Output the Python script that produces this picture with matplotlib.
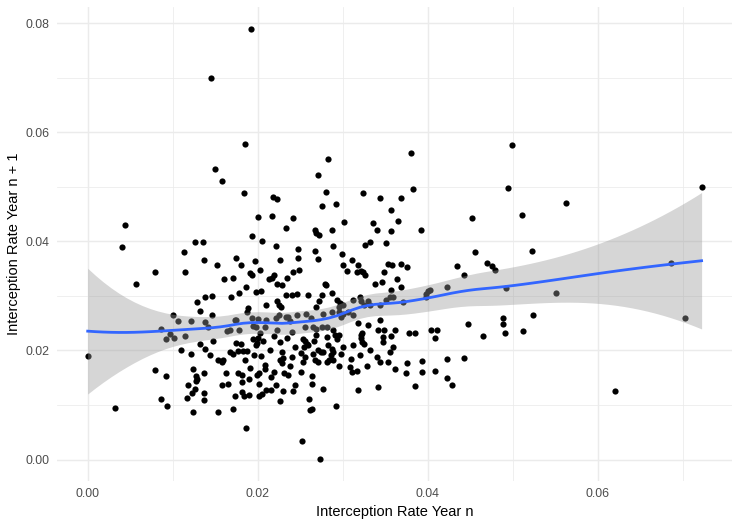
import numpy as np
import matplotlib
matplotlib.use("Agg")
import matplotlib.pyplot as plt

plt.rcParams['font.family'] = ['Liberation Sans', 'DejaVu Sans']

# Interception rate in year n (x) and year n + 1 (y)
rate_year_n = [
    0.0044, 0.0040, 0.0126, 0.0113, 0.0114, 0.0079, 0.0057, 0.0129, 0.0100, 0.0132,
    0.0086, 0.0106, 0.0122, 0.0097, 0.0092, 0.0102, 0.0114, 0.0000, 0.0110, 0.0122,
    0.0079, 0.0092, 0.0124, 0.0127, 0.0129, 0.0127, 0.0118, 0.0126, 0.0123, 0.0117,
    0.0086, 0.0093, 0.0032, 0.0124, 0.0132,
    0.0158, 0.0184, 0.0218, 0.0223, 0.0200, 0.0217, 0.0242, 0.0233, 0.0193, 0.0136,
    0.0205, 0.0222, 0.0247, 0.0247, 0.0137, 0.0152, 0.0174, 0.0180, 0.0197, 0.0226,
    0.0203, 0.0191, 0.0193, 0.0241, 0.0249, 0.0160, 0.0171, 0.0213, 0.0219, 0.0217,
    0.0234,
    0.0186, 0.0223, 0.0229, 0.0204, 0.0198, 0.0138, 0.0146, 0.0168, 0.0178, 0.0233,
    0.0240, 0.0246, 0.0223, 0.0225, 0.0227, 0.0210, 0.0189, 0.0187, 0.0146, 0.0138,
    0.0142, 0.0173, 0.0175, 0.0167, 0.0164, 0.0178, 0.0193, 0.0200, 0.0194, 0.0198,
    0.0208, 0.0210, 0.0222, 0.0225, 0.0233, 0.0236, 0.0238, 0.0246, 0.0223, 0.0240,
    0.0147, 0.0138, 0.0144, 0.0153, 0.0158, 0.0159, 0.0167, 0.0171, 0.0177, 0.0183,
    0.0187, 0.0185, 0.0174, 0.0180, 0.0194, 0.0200, 0.0203, 0.0206, 0.0198, 0.0199,
    0.0214, 0.0219, 0.0226, 0.0228, 0.0230, 0.0226, 0.0234, 0.0244, 0.0240, 0.0238,
    0.0229, 0.0209, 0.0208, 0.0191, 0.0196, 0.0204,
    0.0137, 0.0163, 0.0177, 0.0181, 0.0190, 0.0182, 0.0199, 0.0202, 0.0215, 0.0219,
    0.0231, 0.0236, 0.0244, 0.0158, 0.0165, 0.0202, 0.0222, 0.0137, 0.0137, 0.0173,
    0.0181, 0.0184, 0.0190, 0.0202, 0.0205, 0.0210, 0.0215, 0.0230, 0.0242, 0.0226,
    0.0153, 0.0171, 0.0186,
    0.0280, 0.0324, 0.0344, 0.0368, 0.0276, 0.0292, 0.0357, 0.0302, 0.0336, 0.0365,
    0.0267, 0.0269, 0.0272, 0.0287, 0.0340, 0.0357, 0.0326, 0.0332, 0.0351, 0.0289,
    0.0267, 0.0271, 0.0299, 0.0311, 0.0300, 0.0318, 0.0353, 0.0358, 0.0305, 0.0317,
    0.0321, 0.0324, 0.0326, 0.0349, 0.0364,
    0.0279, 0.0280, 0.0338, 0.0346, 0.0357, 0.0259, 0.0275, 0.0287, 0.0272, 0.0268,
    0.0293, 0.0297, 0.0300, 0.0296, 0.0312, 0.0320, 0.0322, 0.0325, 0.0330, 0.0332,
    0.0344, 0.0351, 0.0355, 0.0359, 0.0257, 0.0263, 0.0277, 0.0287, 0.0296, 0.0300,
    0.0298, 0.0306, 0.0312, 0.0344, 0.0255, 0.0265, 0.0269, 0.0275, 0.0281, 0.0289,
    0.0318, 0.0330, 0.0342, 0.0349, 0.0361, 0.0253, 0.0256, 0.0258, 0.0254, 0.0259,
    0.0266, 0.0268, 0.0281, 0.0291, 0.0296, 0.0293, 0.0323, 0.0321, 0.0322, 0.0325,
    0.0323, 0.0347, 0.0347, 0.0357, 0.0251, 0.0255, 0.0253, 0.0265, 0.0271, 0.0274,
    0.0277, 0.0283, 0.0287, 0.0289, 0.0286, 0.0284, 0.0281, 0.0289, 0.0300, 0.0298,
    0.0312, 0.0310, 0.0320, 0.0332, 0.0340, 0.0344, 0.0353, 0.0359, 0.0267, 0.0271,
    0.0296, 0.0308, 0.0328, 0.0361, 0.0355,
    0.0251, 0.0264, 0.0264, 0.0277, 0.0311, 0.0317, 0.0318, 0.0342, 0.0260, 0.0264,
    0.0262, 0.0292, 0.0252, 0.0273,
    0.0383, 0.0392, 0.0452, 0.0456, 0.0369, 0.0376, 0.0434, 0.0442, 0.0470, 0.0476,
    0.0479, 0.0369, 0.0398, 0.0400, 0.0403, 0.0398, 0.0422, 0.0371, 0.0378, 0.0385,
    0.0404, 0.0411, 0.0409, 0.0447, 0.0465, 0.0376, 0.0393, 0.0374, 0.0393, 0.0385,
    0.0409, 0.0423, 0.0443, 0.0423, 0.0429,
    0.0499, 0.0494, 0.0511, 0.0563, 0.0722, 0.0523, 0.0492, 0.0551, 0.0686, 0.0702,
    0.0489, 0.0489, 0.0491, 0.0524, 0.0512, 0.0620,
    0.0192, 0.0145, 0.0185, 0.0150, 0.0283, 0.0271, 0.0380,
]

rate_year_n1 = [
    0.0429, 0.0390, 0.0398, 0.0381, 0.0344, 0.0343, 0.0321, 0.0288, 0.0264, 0.0273,
    0.0240, 0.0253, 0.0253, 0.0230, 0.0221, 0.0223, 0.0227, 0.0190, 0.0201, 0.0194,
    0.0165, 0.0154, 0.0166, 0.0154, 0.0148, 0.0144, 0.0137, 0.0130, 0.0122, 0.0113,
    0.0111, 0.0099, 0.0095, 0.0088, 0.0211,
    0.0511, 0.0488, 0.0481, 0.0478, 0.0445, 0.0447, 0.0442, 0.0425, 0.0410, 0.0398,
    0.0401, 0.0392, 0.0385, 0.0370, 0.0365, 0.0357, 0.0370, 0.0357, 0.0363, 0.0365,
    0.0348, 0.0341, 0.0338, 0.0344, 0.0348, 0.0330, 0.0332, 0.0330, 0.0339, 0.0332,
    0.0332,
    0.0316, 0.0322, 0.0319, 0.0308, 0.0307, 0.0298, 0.0299, 0.0298, 0.0305, 0.0301,
    0.0301, 0.0303, 0.0290, 0.0284, 0.0279, 0.0284, 0.0277, 0.0270, 0.0264, 0.0252,
    0.0243, 0.0256, 0.0255, 0.0238, 0.0235, 0.0238, 0.0260, 0.0258, 0.0244, 0.0243,
    0.0242, 0.0256, 0.0260, 0.0264, 0.0262, 0.0261, 0.0254, 0.0264, 0.0238, 0.0234,
    0.0218, 0.0203, 0.0191, 0.0182, 0.0179, 0.0183, 0.0198, 0.0193, 0.0199, 0.0199,
    0.0199, 0.0182, 0.0213, 0.0211, 0.0220, 0.0223, 0.0231, 0.0217, 0.0209, 0.0213,
    0.0200, 0.0226, 0.0215, 0.0197, 0.0187, 0.0182, 0.0223, 0.0207, 0.0188, 0.0171,
    0.0177, 0.0174, 0.0166, 0.0168, 0.0191, 0.0189,
    0.0159, 0.0159, 0.0158, 0.0155, 0.0148, 0.0142, 0.0155, 0.0158, 0.0152, 0.0160,
    0.0158, 0.0155, 0.0137, 0.0137, 0.0139, 0.0139, 0.0137, 0.0122, 0.0110, 0.0116,
    0.0123, 0.0117, 0.0119, 0.0116, 0.0121, 0.0128, 0.0128, 0.0125, 0.0125, 0.0108,
    0.0088, 0.0093, 0.0058,
    0.0491, 0.0488, 0.0480, 0.0480, 0.0464, 0.0469, 0.0458, 0.0436, 0.0434, 0.0438,
    0.0421, 0.0415, 0.0411, 0.0421, 0.0421, 0.0418, 0.0394, 0.0398, 0.0396, 0.0392,
    0.0383, 0.0368, 0.0377, 0.0366, 0.0357, 0.0357, 0.0359, 0.0357, 0.0346, 0.0343,
    0.0346, 0.0343, 0.0338, 0.0343, 0.0330,
    0.0322, 0.0319, 0.0322, 0.0325, 0.0311, 0.0301, 0.0301, 0.0305, 0.0290, 0.0279,
    0.0293, 0.0287, 0.0284, 0.0279, 0.0292, 0.0298, 0.0290, 0.0284, 0.0290, 0.0284,
    0.0283, 0.0293, 0.0298, 0.0298, 0.0267, 0.0260, 0.0267, 0.0270, 0.0270, 0.0267,
    0.0261, 0.0270, 0.0264, 0.0256, 0.0243, 0.0242, 0.0240, 0.0243, 0.0243, 0.0238,
    0.0250, 0.0246, 0.0237, 0.0237, 0.0238, 0.0220, 0.0217, 0.0212, 0.0207, 0.0209,
    0.0218, 0.0228, 0.0224, 0.0228, 0.0228, 0.0221, 0.0232, 0.0228, 0.0223, 0.0212,
    0.0215, 0.0224, 0.0215, 0.0226, 0.0195, 0.0188, 0.0179, 0.0194, 0.0200, 0.0197,
    0.0197, 0.0209, 0.0203, 0.0198, 0.0191, 0.0182, 0.0179, 0.0182, 0.0206, 0.0194,
    0.0209, 0.0185, 0.0191, 0.0200, 0.0188, 0.0179, 0.0179, 0.0206, 0.0182, 0.0179,
    0.0172, 0.0169, 0.0171, 0.0166, 0.0197,
    0.0160, 0.0154, 0.0139, 0.0130, 0.0160, 0.0163, 0.0128, 0.0133, 0.0111, 0.0093,
    0.0090, 0.0099, 0.0034, 0.0001,
    0.0495, 0.0421, 0.0442, 0.0381, 0.0358, 0.0352, 0.0355, 0.0339, 0.0360, 0.0355,
    0.0348, 0.0316, 0.0304, 0.0309, 0.0311, 0.0297, 0.0317, 0.0288, 0.0232, 0.0231,
    0.0238, 0.0238, 0.0223, 0.0249, 0.0227, 0.0177, 0.0181, 0.0159, 0.0161, 0.0135,
    0.0163, 0.0185, 0.0187, 0.0150, 0.0137,
    0.0576, 0.0497, 0.0449, 0.0471, 0.0499, 0.0383, 0.0315, 0.0306, 0.0361, 0.0260,
    0.0260, 0.0249, 0.0232, 0.0264, 0.0236, 0.0126,
    0.0790, 0.0700, 0.0579, 0.0532, 0.0550, 0.0522, 0.0561,
]

x_ticks = [0.00, 0.02, 0.04, 0.06]
x_tick_labels = ["0.00", "0.02", "0.04", "0.06"]
y_ticks = [0.00, 0.02, 0.04, 0.06, 0.08]
y_tick_labels = ["0.00", "0.02", "0.04", "0.06", "0.08"]
x_minor = [0.01, 0.03, 0.05, 0.07]
y_minor = [0.01, 0.03, 0.05, 0.07]

x = np.asarray(rate_year_n, dtype=float)
y = np.asarray(rate_year_n1, dtype=float)


def loess_rows(xd, x0s, span=0.75):
    n = len(xd)
    q = int(np.floor(n * span))
    rows = []
    for x0 in x0s:
        d = np.abs(xd - x0)
        h = np.sort(d)[q - 1]
        u = d / h
        w = np.clip(1 - u ** 3, 0, None) ** 3
        X = np.column_stack([np.ones(n), xd - x0, (xd - x0) ** 2])
        XtW = X.T * w
        A = XtW @ X
        rows.append(np.linalg.solve(A, XtW)[0])
    return np.array(rows)


L = loess_rows(x, x)
resid = y - L @ y
IL = np.eye(len(x)) - L
M = IL.T @ IL
delta1 = np.trace(M)
sigma = np.sqrt(np.sum(resid ** 2) / delta1)
xg = np.linspace(x.min(), x.max(), 80)
Lg = loess_rows(x, xg)
fit = Lg @ y
se = sigma * np.sqrt(np.sum(Lg ** 2, axis=1))
tq = 1.966

W, H = 739, 525
fig = plt.figure(figsize=(W / 100, H / 100), dpi=100)
left, right, top, bottom = 57.0, 732.3, 7.0, 480.5
ax = fig.add_axes([left / W, (H - bottom) / H, (right - left) / W, (bottom - top) / H])

ax.scatter(x, y, s=20, color="black", linewidths=0, zorder=2)
ax.fill_between(xg, fit - tq * se, fit + tq * se, color="#999999", alpha=0.4,
                linewidth=0, zorder=3)
ax.plot(xg, fit, color="#3366FF", linewidth=2.0, zorder=4)

xr = x.max() - x.min()
yr = y.max() - y.min()
ax.set_xlim(x.min() - 0.05 * xr, x.max() + 0.05 * xr)
ax.set_ylim(y.min() - 0.05 * yr, y.max() + 0.05 * yr)

ax.set_xticks(x_ticks)
ax.set_xticklabels(x_tick_labels)
ax.set_yticks(y_ticks)
ax.set_yticklabels(y_tick_labels)
ax.set_xticks(x_minor, minor=True)
ax.set_yticks(y_minor, minor=True)
ax.grid(True, which="major", color="#EBEBEB", linewidth=1.05, zorder=0)
ax.grid(True, which="minor", color="#EBEBEB", linewidth=0.55, zorder=0)
ax.set_axisbelow(True)
for s in ax.spines.values():
    s.set_visible(False)
ax.tick_params(which="both", length=0)
ax.tick_params(axis="both", labelsize=8.9, labelcolor="#4D4D4D", pad=5.3)

ax.set_xlabel("Interception Rate Year n", fontsize=10.56, color="black", labelpad=3.4)
ax.set_ylabel("Interception Rate Year n + 1", fontsize=10.56, color="black", labelpad=3.0)

fig.savefig("out.png", dpi=100, facecolor="white")
